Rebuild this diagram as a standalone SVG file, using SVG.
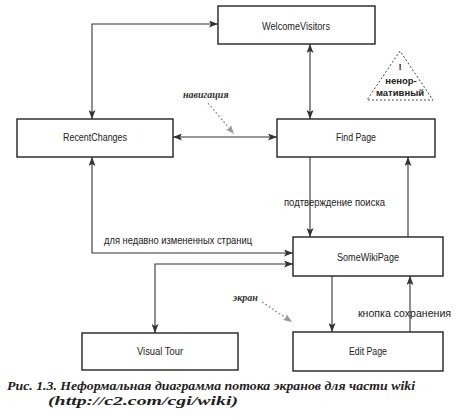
<svg xmlns="http://www.w3.org/2000/svg" width="473" height="418" viewBox="0 0 473 418">
<defs>
<style>
.box{fill:#fff;stroke:#222;stroke-width:1.4}
.lbl{font-family:"Liberation Sans",Arial,sans-serif;font-size:10px;fill:#222;text-anchor:middle}
.el{font-family:"Liberation Sans",Arial,sans-serif;font-size:10px;fill:#222}
.con{fill:none;stroke:#333;stroke-width:1.1;marker-end:url(#ah);marker-start:url(#ah)}
.one{fill:none;stroke:#333;stroke-width:1.1;marker-end:url(#ah)}
.dash{fill:none;stroke:#888;stroke-width:1.1;stroke-dasharray:2,2;marker-end:url(#ahg)}
.note{font-family:"Liberation Serif",serif;font-style:italic;font-weight:bold;font-size:10px;fill:#333}
.tri{font-family:"Liberation Sans",Arial,sans-serif;font-weight:bold;font-size:9.5px;fill:#222;text-anchor:middle}
.cap{font-family:"Liberation Serif",serif;font-style:italic;font-weight:bold;font-size:12px;fill:#222}
</style>
<marker id="ah" viewBox="0 0 9 7" refX="9" refY="3.5" markerWidth="9" markerHeight="7" markerUnits="userSpaceOnUse" orient="auto-start-reverse">
<path d="M0,0 L9,3.5 L0,7 L2,3.5 z" fill="#333"/>
</marker>
<marker id="ahg" viewBox="0 0 9 7" refX="9" refY="3.5" markerWidth="9" markerHeight="7" markerUnits="userSpaceOnUse" orient="auto">
<path d="M0,0 L9,3.5 L0,7 L2,3.5 z" fill="#999"/>
</marker>
</defs>
<rect width="473" height="418" fill="#fff"/>
<g id="connectors">
<path class="con" d="M92,119 L92,24 L218,24"/>
<path class="con" d="M310,44 L310,119"/>
<path class="con" d="M173,137 L277,137"/>
<path class="one" d="M310,157 L310,237"/>
<path class="one" d="M408,237 L408,157"/>
<path class="con" d="M92,157 L92,253 L293,253"/>
<path class="con" d="M155,333 L155,264 L293,264"/>
<path class="one" d="M332,276 L332,332"/>
<path class="one" d="M410,332 L410,276"/>
<path class="dash" d="M208,103 L234,134"/>
<path class="dash" d="M262,302 L292,322"/>
<text class="el" x="284" y="206" textLength="101" lengthAdjust="spacingAndGlyphs">подтверждение поиска</text>
<text class="el" x="104" y="244" textLength="148" lengthAdjust="spacingAndGlyphs">для недавно измененных страниц</text>
<text class="el" x="358" y="317" textLength="93" lengthAdjust="spacingAndGlyphs">кнопка сохранения</text>
<text class="note" x="183" y="98">навигация</text>
<text class="note" x="233" y="301">экран</text>
</g>
<g id="WelcomeVisitors">
<rect class="box" x="218" y="6" width="157" height="38"/>
<text class="lbl" x="296" y="30" textLength="68" lengthAdjust="spacingAndGlyphs">WelcomeVisitors</text>
</g>
<g id="RecentChanges">
<rect class="box" x="17" y="119" width="156" height="38"/>
<text class="lbl" x="95" y="141" textLength="64" lengthAdjust="spacingAndGlyphs">RecentChanges</text>
</g>
<g id="FindPage">
<rect class="box" x="277" y="119" width="158" height="38"/>
<text class="lbl" x="356" y="141" textLength="40" lengthAdjust="spacingAndGlyphs">Find Page</text>
</g>
<g id="SomeWikiPage">
<rect class="box" x="293" y="237" width="150" height="39"/>
<text class="lbl" x="368" y="261" textLength="62" lengthAdjust="spacingAndGlyphs">SomeWikiPage</text>
</g>
<g id="VisualTour">
<rect class="box" x="82" y="333" width="156" height="37"/>
<text class="lbl" x="160" y="355" textLength="46" lengthAdjust="spacingAndGlyphs">Visual Tour</text>
</g>
<g id="EditPage">
<rect class="box" x="293" y="332" width="150" height="39"/>
<text class="lbl" x="368" y="355" textLength="38" lengthAdjust="spacingAndGlyphs">Edit Page</text>
</g>
<g id="nonnormative">
<polygon points="400,51 367,100 433,100" fill="none" stroke="#444" stroke-width="1" stroke-dasharray="2,2"/>
<text class="tri" x="400" y="70">!</text>
<text class="tri" x="401" y="84">ненор-</text>
<text class="tri" x="400" y="96">мативный</text>
</g>
<text class="cap" x="7" y="390" textLength="408" lengthAdjust="spacingAndGlyphs">Рис. 1.3. Неформальная диаграмма потока экранов для части wiki</text>
<text class="cap" x="48" y="405" textLength="190" lengthAdjust="spacingAndGlyphs">(http://c2.com/cgi/wiki)</text>
</svg>
